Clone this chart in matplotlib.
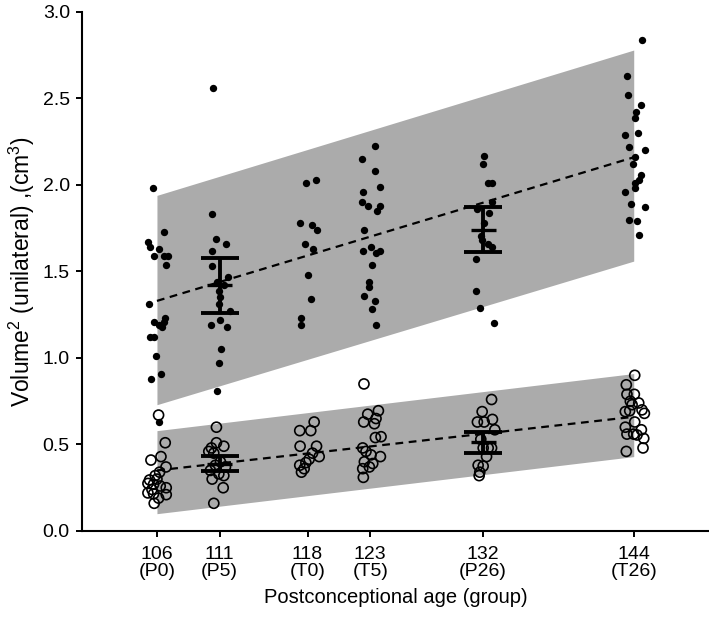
import numpy as np
import matplotlib.pyplot as plt

plt.rcParams['font.family'] = ['Liberation Sans', 'DejaVu Sans']

# group ages and labels
ages = [106, 111, 118, 123, 132, 144]
tick_labels = ['106\n(P0)', '111\n(P5)', '118\n(T0)', '123\n(T5)', '132\n(P26)', '144\n(T26)']

# upper series (filled dots): value, x jitter (age units)
up_106 = [1.985, 1.73, 1.67, 1.64, 1.63, 1.59, 1.59, 1.59, 1.54, 1.31, 1.23, 1.21, 1.19, 1.21, 1.18, 1.12, 1.12, 1.01, 0.905, 0.88, 0.63]
up_106_dx = [-0.35, 0.58, -0.7, -0.54, 0.18, -0.27, 0.53, 0.85, 0.72, -0.67, 0.61, -0.27, 0.13, 0.53, 0.4, -0.54, -0.27, -0.08, 0.32, -0.46, 0.2]
up_111 = [2.56, 1.83, 1.69, 1.66, 1.62, 1.53, 1.47, 1.44, 1.42, 1.39, 1.355, 1.31, 1.27, 1.19, 1.22, 1.18, 1.05, 0.97, 0.81]
up_111_dx = [-0.5, -0.63, -0.28, 0.49, -0.58, -0.58, 0.65, -0.2, 0.38, -0.07, 0.06, -0.07, 0.81, -0.66, 0.0, 0.6, 0.14, -0.04, -0.23]
up_118 = [2.01, 2.03, 1.78, 1.77, 1.74, 1.66, 1.63, 1.48, 1.34, 1.23, 1.19]
up_118_dx = [-0.13, 0.64, -0.62, 0.34, 0.74, -0.19, 0.45, 0.0, 0.26, -0.54, -0.54]
up_123 = [2.225, 2.15, 2.08, 1.99, 1.96, 1.90, 1.88, 1.88, 1.85, 1.74, 1.62, 1.64, 1.605, 1.62, 1.54, 1.44, 1.41, 1.36, 1.33, 1.285, 1.19]
up_123_dx = [0.38, -0.68, 0.38, 0.81, -0.6, -0.66, -0.15, 0.78, 0.54, -0.52, -0.55, 0.06, 0.46, 0.81, 0.17, -0.07, -0.07, -0.52, 0.36, 0.14, 0.46]
up_132 = [2.17, 2.12, 2.01, 2.01, 1.90, 1.86, 1.84, 1.78, 1.705, 1.68, 1.66, 1.64, 1.57, 1.39, 1.29, 1.20]
up_132_dx = [0.05, -0.03, 0.4, 0.67, 0.67, -0.46, 0.48, 0.08, -0.19, -0.08, 0.4, 0.72, -0.56, -0.59, -0.27, 0.88]
up_144 = [2.84, 2.63, 2.52, 2.46, 2.42, 2.39, 2.29, 2.30, 2.22, 2.20, 2.16, 2.12, 2.06, 2.03, 2.01, 1.98, 1.96, 1.89, 1.87, 1.80, 1.79, 1.71]
up_144_dx = [0.67, -0.51, -0.48, 0.58, 0.18, 0.13, -0.67, 0.34, -0.35, 0.93, 0.08, -0.06, 0.61, 0.45, 0.13, 0.13, -0.67, -0.19, 0.88, -0.35, 0.26, 0.4]

# lower series (open circles)
lo_106 = [0.67, 0.51, 0.41, 0.43, 0.37, 0.34, 0.32, 0.295, 0.30, 0.27, 0.275, 0.26, 0.25, 0.22, 0.215, 0.21, 0.19, 0.16, 0.24]
lo_106_dx = [0.13, 0.66, -0.48, 0.32, 0.72, 0.21, -0.14, -0.59, 0.0, -0.27, -0.72, 0.26, 0.74, -0.72, -0.27, 0.74, 0.13, -0.22, -0.4]
lo_111 = [0.60, 0.48, 0.51, 0.49, 0.46, 0.45, 0.40, 0.38, 0.37, 0.35, 0.33, 0.32, 0.30, 0.25, 0.16]
lo_111_dx = [-0.26, -0.66, -0.26, 0.33, -0.87, -0.47, 0.06, -0.34, 0.46, -0.74, -0.07, 0.33, -0.6, 0.28, -0.47]
lo_118 = [0.63, 0.58, 0.58, 0.49, 0.49, 0.45, 0.43, 0.415, 0.395, 0.38, 0.36, 0.34]
lo_118_dx = [0.53, -0.62, 0.26, -0.59, 0.72, 0.4, 0.93, 0.13, -0.13, -0.62, -0.27, -0.48]
lo_123 = [0.85, 0.695, 0.675, 0.65, 0.63, 0.62, 0.54, 0.545, 0.48, 0.46, 0.44, 0.43, 0.40, 0.39, 0.36, 0.37, 0.31]
lo_123_dx = [-0.5, 0.65, -0.2, 0.46, -0.52, 0.33, 0.41, 0.86, -0.6, -0.34, 0.06, 0.81, -0.47, 0.2, -0.6, -0.07, -0.55]
lo_132 = [0.76, 0.69, 0.63, 0.63, 0.645, 0.585, 0.53, 0.48, 0.48, 0.48, 0.43, 0.38, 0.375, 0.34, 0.32]
lo_132_dx = [0.67, -0.08, -0.46, 0.08, 0.74, 0.93, -0.19, 0.4, 0.0, 0.67, 0.27, -0.4, 0.0, -0.27, -0.32]
lo_144 = [0.90, 0.845, 0.79, 0.79, 0.75, 0.74, 0.73, 0.70, 0.69, 0.695, 0.68, 0.63, 0.60, 0.585, 0.56, 0.56, 0.555, 0.535, 0.48, 0.46]
lo_144_dx = [0.08, -0.59, -0.54, 0.05, -0.27, 0.4, -0.13, 0.66, -0.67, -0.32, 0.85, 0.08, -0.67, 0.61, 0.0, -0.54, 0.26, 0.8, 0.74, -0.59]

upper = [up_106, up_111, up_118, up_123, up_132, up_144]
upper_dx = [up_106_dx, up_111_dx, up_118_dx, up_123_dx, up_132_dx, up_144_dx]
lower = [lo_106, lo_111, lo_118, lo_123, lo_132, lo_144]
lower_dx = [lo_106_dx, lo_111_dx, lo_118_dx, lo_123_dx, lo_132_dx, lo_144_dx]

# prediction bands and fit lines at the end ages (106, 144)
band_x = [106, 144]
up_band_lo = [0.73, 1.56]
up_band_hi = [1.94, 2.78]
up_fit = [1.33, 2.16]
lo_band_lo = [0.10, 0.43]
lo_band_hi = [0.58, 0.91]
lo_fit = [0.35, 0.66]

# error bars: age, mean, lower, upper
eb_age = [111, 132]
up_mean = [1.42, 1.74]
up_err_lo = [1.26, 1.615]
up_err_hi = [1.58, 1.875]
lo_mean = [0.39, 0.513]
lo_err_lo = [0.347, 0.453]
lo_err_hi = [0.435, 0.574]

fig = plt.figure(figsize=(7.09, 6.18), dpi=100)
ax = fig.add_axes([0.1152, 0.1408, 0.8848, 0.8398])

gray = '#ababab'
ax.fill_between(band_x, up_band_lo, up_band_hi, color=gray, lw=0, zorder=1)
ax.fill_between(band_x, lo_band_lo, lo_band_hi, color=gray, lw=0, zorder=1)

for a, vals, dx in zip(ages, upper, upper_dx):
    ax.scatter(np.array(dx) + a, vals, s=28, color='black', lw=0, zorder=3)
for a, vals, dx in zip(ages, lower, lower_dx):
    ax.scatter(np.array(dx) + a, vals, s=52, facecolors='none', edgecolors='black', lw=1.2, zorder=3)

ax.plot(band_x, up_fit, color='black', ls=(0, (3.5, 2.5)), lw=1.6, zorder=4)
ax.plot(band_x, lo_fit, color='black', ls=(0, (3.5, 2.5)), lw=1.6, zorder=4)

for means, los, his in [(up_mean, up_err_lo, up_err_hi), (lo_mean, lo_err_lo, lo_err_hi)]:
    m = np.array(means)
    ax.errorbar(eb_age, m, yerr=[m - np.array(los), np.array(his) - m], fmt='none',
                ecolor='black', elinewidth=2.8, capsize=13.5, capthick=2.8, zorder=5)
    ax.hlines(m, np.array(eb_age) - 1.0, np.array(eb_age) + 1.0, color='black', lw=2.4, zorder=5)

ax.set_xlim(100, 150)
ax.set_ylim(0, 3.0)
ax.set_xticks(ages)
ax.set_xticklabels(tick_labels, fontsize=14, linespacing=1.0)
ax.set_yticks(np.arange(0, 3.01, 0.5))
ax.set_yticklabels(['%.1f' % v for v in np.arange(0, 3.01, 0.5)], fontsize=14)
ax.tick_params(direction='out', length=4.5, width=1.4)
ax.tick_params(axis='x', pad=6)
ax.tick_params(axis='y', pad=4)
for s in ['top', 'right']:
    ax.spines[s].set_visible(False)
for s in ['left', 'bottom']:
    ax.spines[s].set_linewidth(1.5)

ax.set_xlabel('Postconceptional age (group)', fontsize=14.5, labelpad=6)
ax.set_ylabel('Volume$\\mathregular{^2}$ (unilateral) ,(cm$\\mathregular{^3}$)', fontsize=16.5, labelpad=4)

fig.savefig('out.png', dpi=100)
